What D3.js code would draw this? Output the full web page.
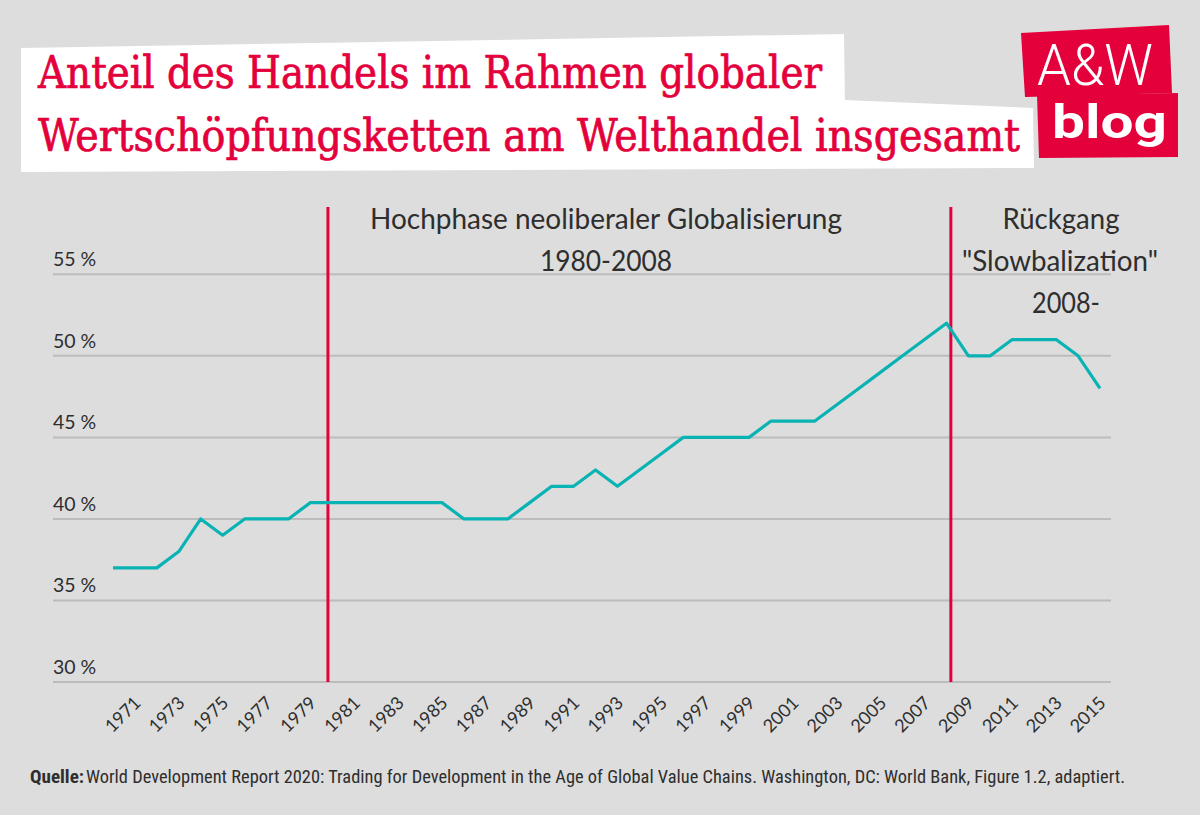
<!DOCTYPE html>
<html>
<head>
<meta charset="utf-8">
<script src="https://d3js.org/d3.v7.min.js"></script>
<style>
  html, body { margin: 0; padding: 0; background: #dddddd; }
  svg { display: block; }
</style>
</head>
<body>
<svg id="chart" width="1200" height="815"></svg>
<script>
// ---------- data ----------
const titleLines = ["Anteil des Handels im Rahmen globaler", "Wertschöpfungsketten am Welthandel insgesamt"];
const years = [1970,1971,1972,1973,1974,1975,1976,1977,1978,1979,
               1980,1981,1982,1983,1984,1985,1986,1987,1988,1989,
               1990,1991,1992,1993,1994,1995,1996,1997,1998,1999,
               2000,2001,2002,2003,2004,2005,2006,2007,2008,2009,
               2010,2011,2012,2013,2014,2015];
const shares = [37,37,37,38,40,39,40,40,40,41,
                41,41,41,41,41,41,40,40,40,41,
                42,42,43,42,43,44,45,45,45,45,
                46,46,46,47,48,49,50,51,52,50,
                50,51,51,51,50,48];
const xTickYears = [1971,1973,1975,1977,1979,1981,1983,1985,1987,1989,1991,1993,1995,1997,1999,2001,2003,2005,2007,2009,2011,2013,2015];
const yTicks = [30,35,40,45,50,55];
const phaseBreaks = [1979.8, 2008.2];
const phaseLabel1 = ["Hochphase neoliberaler Globalisierung", "1980-2008"];
const phaseLabel2 = ["Rückgang", "\"Slowbalization\"", "2008-"];
const sourceBold = "Quelle:";
const sourceText = "World Development Report 2020: Trading for Development in the Age of Global Value Chains. Washington, DC: World Bank, Figure 1.2, adaptiert.";

// ---------- layout ----------
const RED = "#e3003b";
const TEAL = "#0ab3b3";
const TXT = "#2e2e2e";
const svg = d3.select("#chart");

svg.append("rect").attr("width", 1200).attr("height", 815).attr("fill", "#dddddd");

const x = d3.scaleLinear().domain([1970, 2015]).range([113, 1100]);
const y = d3.scaleLinear().domain([30, 55]).range([682, 274.3]);

// gridlines + y labels
const grid = svg.append("g");
grid.selectAll("line").data(yTicks).join("line")
  .attr("x1", 53).attr("x2", 1111)
  .attr("y1", d => y(d)).attr("y2", d => y(d))
  .attr("stroke", "#bcbcbc").attr("stroke-width", 2);
grid.selectAll("text").data(yTicks).join("text")
  .attr("x", 53).attr("y", d => y(d) - 8)
  .attr("font-family", "Lato, 'Open Sans', sans-serif")
  .attr("font-size", 19.5).attr("fill", TXT)
  .text(d => d + " %");

// x tick labels (rotated)
svg.append("g").selectAll("text").data(xTickYears).join("text")
  .attr("transform", d => `translate(${x(d) + 7},704) rotate(-45)`)
  .attr("text-anchor", "end")
  .attr("font-family", "Lato, 'Open Sans', sans-serif")
  .attr("font-size", 18).attr("fill", TXT)
  .text(d => d);

// phase separators
svg.append("g").selectAll("line").data(phaseBreaks).join("line")
  .attr("x1", d => x(d)).attr("x2", d => x(d))
  .attr("y1", 207).attr("y2", 682)
  .attr("stroke", RED).attr("stroke-width", 3);

// data line
const line = d3.line().x((d, i) => x(years[i])).y(d => y(d));
svg.append("path").datum(shares)
  .attr("d", line)
  .attr("fill", "none").attr("stroke", TEAL).attr("stroke-width", 3.2)
  .attr("stroke-linejoin", "round");

// phase annotations
const annFont = "Lato, 'Open Sans', sans-serif";
svg.append("text").attr("x", 606).attr("y", 229).attr("text-anchor", "middle")
  .attr("font-family", annFont).attr("font-size", 28).attr("fill", TXT)
  .attr("textLength", 472).attr("lengthAdjust", "spacingAndGlyphs")
  .text(phaseLabel1[0]);
svg.append("text").attr("x", 606).attr("y", 271).attr("text-anchor", "middle")
  .attr("font-family", annFont).attr("font-size", 28).attr("fill", TXT)
  .attr("textLength", 132).attr("lengthAdjust", "spacingAndGlyphs")
  .text(phaseLabel1[1]);
const p2 = [{t: phaseLabel2[0], cx: 1061, y: 229, w: 117},
            {t: phaseLabel2[1], cx: 1060, y: 271, w: 196},
            {t: phaseLabel2[2], cx: 1066, y: 313, w: 68}];
svg.append("g").selectAll("text").data(p2).join("text")
  .attr("x", d => d.cx).attr("y", d => d.y).attr("text-anchor", "middle")
  .attr("font-family", annFont).attr("font-size", 28).attr("fill", TXT)
  .attr("textLength", d => d.w).attr("lengthAdjust", "spacingAndGlyphs")
  .text(d => d.t);

// title boxes
svg.append("polygon").attr("points", "21,48 844,34 845,107 21,105").attr("fill", "#ffffff");
svg.append("polygon").attr("points", "21,100 844,100 1033,108 1034,168 21,172").attr("fill", "#ffffff");
const titleFont = "'DejaVu Serif Condensed', 'DejaVu Serif', serif";
svg.append("text").attr("x", 38).attr("y", 88)
  .attr("font-family", titleFont).attr("font-size", 45).attr("fill", RED)
  .attr("stroke", RED).attr("stroke-width", 0.7)
  .attr("textLength", 784).attr("lengthAdjust", "spacingAndGlyphs")
  .text(titleLines[0]);
svg.append("text").attr("x", 38).attr("y", 151)
  .attr("font-family", titleFont).attr("font-size", 45).attr("fill", RED)
  .attr("stroke", RED).attr("stroke-width", 0.7)
  .attr("textLength", 982).attr("lengthAdjust", "spacingAndGlyphs")
  .text(titleLines[1]);

// logo
svg.append("polygon").attr("points", "1021,33 1169,25 1172,93 1025,97").attr("fill", RED);
svg.append("polygon").attr("points", "1037,95 1178,93 1178,157 1039,158").attr("fill", RED);
svg.append("text").attr("x", 1037).attr("y", 85)
  .attr("font-family", "Roboto, sans-serif").attr("font-weight", 300).attr("font-size", 58).attr("fill", "#ffffff")
  .attr("textLength", 116).attr("lengthAdjust", "spacingAndGlyphs")
  .text("A&W");
svg.append("text").attr("x", 1052).attr("y", 138)
  .attr("font-family", "Roboto, sans-serif").attr("font-weight", "bold").attr("font-size", 46).attr("fill", "#ffffff")
  .attr("textLength", 115).attr("lengthAdjust", "spacingAndGlyphs")
  .text("blog");

// source
const src = svg.append("text").attr("x", 30).attr("y", 783)
  .attr("font-family", "'Liberation Sans Narrow', 'Roboto Condensed', Lato, sans-serif")
  .attr("font-size", 18).attr("fill", TXT);
src.append("tspan").attr("font-weight", "bold").text(sourceBold)
  .attr("textLength", 54).attr("lengthAdjust", "spacingAndGlyphs");
src.append("tspan").attr("x", 86).text(sourceText)
  .attr("textLength", 1039).attr("lengthAdjust", "spacingAndGlyphs");
</script>
</body>
</html>
